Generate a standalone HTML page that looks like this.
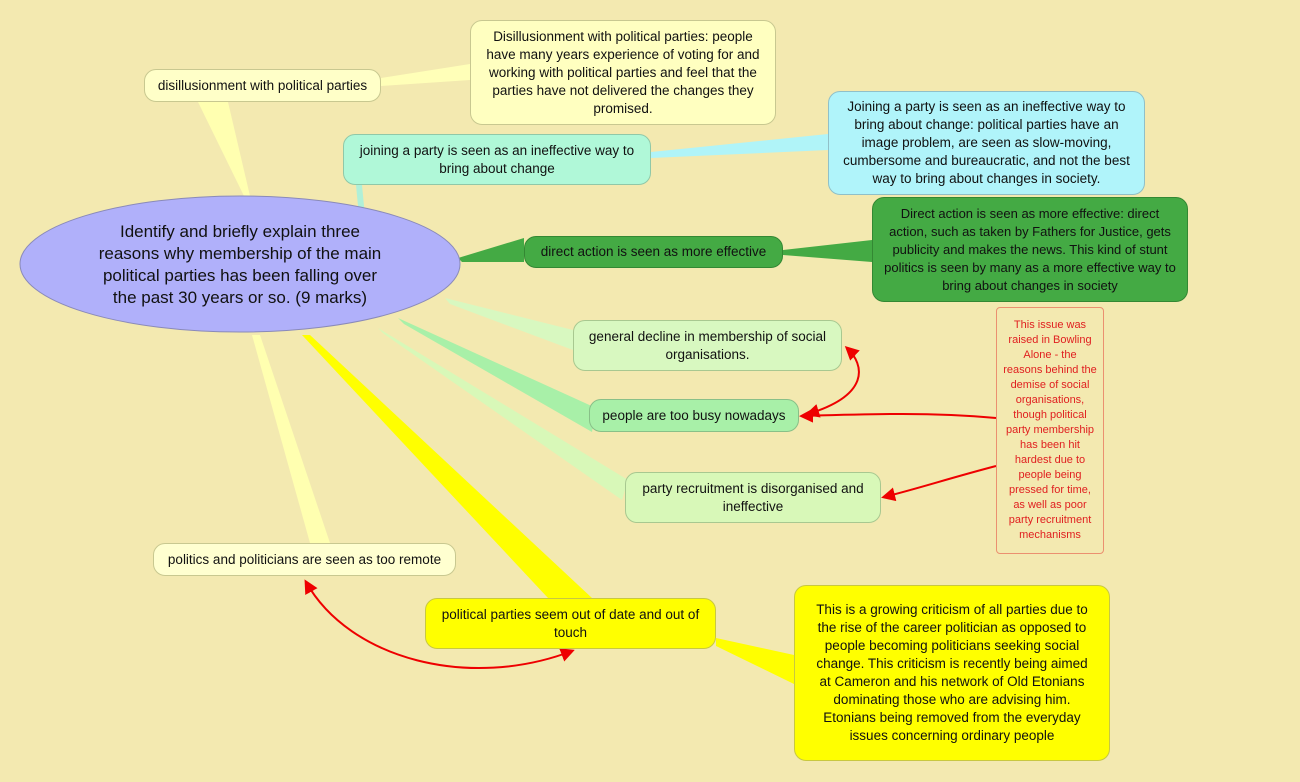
<!DOCTYPE html>
<html><head><style>
body{margin:0;width:1300px;height:782px;background:#f3e9b0;position:relative;overflow:hidden;font-family:"Liberation Sans",sans-serif;}
.n{position:absolute;box-sizing:border-box;border-radius:12px;display:flex;align-items:center;justify-content:center;text-align:center;font-size:13.5px;line-height:18px;color:#111;padding:2px 10px;}
svg{position:absolute;left:0;top:0}
</style></head><body>
<svg width="1300" height="782">
<defs><marker id="a" markerWidth="14" markerHeight="14" refX="11" refY="7" orient="auto-start-reverse" markerUnits="userSpaceOnUse"><path d="M0,0 L14,7 L0,14 z" fill="#e00"/></marker></defs>
<polygon points="198,102 228,102 250,196 244,196" fill="#ffffb0"/>
<polygon points="381,78 381,86 470,80 470,64" fill="#ffffb8"/>
<polygon points="362,248 368,248 362,185 356,185" fill="#b0f0d8"/>
<polygon points="651,152 651,158 828,150 828,134" fill="#b0f4f8"/>
<polygon points="458,258 462,262 524,262 524,238" fill="#44aa44"/>
<polygon points="783,250 783,255 872,262 872,240" fill="#44aa44"/>
<polygon points="445,298 450,304 573,350 573,330" fill="#d8f8c0"/>
<polygon points="398,318 404,324 592,432 596,408" fill="#a8f0a8"/>
<polygon points="378,328 384,334 622,500 628,480" fill="#d8f8b8"/>
<polygon points="252,335 260,335 330,543 310,543" fill="#ffffb0"/>
<polygon points="302,335 310,335 592,598 548,598" fill="#ffff00"/>
<polygon points="716,638 716,646 794,684 794,655" fill="#ffff00"/>
<ellipse cx="240" cy="264" rx="220" ry="68" fill="#b0b0fa" stroke="#8a8ab8"/>
<path d="M808,414 C870,395 865,365 847,348" stroke="#e00" stroke-width="2" fill="none" marker-start="url(#a)" marker-end="url(#a)"/>
<path d="M996,418 C930,412 870,414 802,416" stroke="#e00" stroke-width="2" fill="none" marker-end="url(#a)"/>
<path d="M996,466 C950,478 920,488 884,497" stroke="#e00" stroke-width="2" fill="none" marker-end="url(#a)"/>
<path d="M306,582 C350,660 470,690 572,651" stroke="#e00" stroke-width="2" fill="none" marker-start="url(#a)" marker-end="url(#a)"/>
</svg>
<div class="n" style="left:30px;top:215px;width:420px;height:100px;font-size:17px;line-height:22px;background:none;padding:0 60px">Identify and briefly explain three reasons why membership of the main political parties has been falling over the past 30 years or so. (9 marks)</div>
<div class="n" style="left:144px;top:69px;width:237px;height:33px;background:#ffffc8;border:1px solid #c8c890">disillusionment with political parties</div>
<div class="n" style="left:470px;top:20px;width:306px;height:105px;background:#ffffc0;border:1px solid #c8c890;padding:2px 12px">Disillusionment with political parties: people have many years experience of voting for and working with political parties and feel that the parties have not delivered the changes they promised.</div>
<div class="n" style="left:343px;top:134px;width:308px;height:51px;background:#b0f8d8;border:1px solid #90c8a8">joining a party is seen as an ineffective way to bring about change</div>
<div class="n" style="left:828px;top:91px;width:317px;height:104px;background:#b0f4fa;border:1px solid #90c0c8;padding:2px 14px">Joining a party is seen as an ineffective way to bring about change: political parties have an image problem, are seen as slow-moving, cumbersome and bureaucratic, and not the best way to bring about changes in society.</div>
<div class="n" style="left:524px;top:236px;width:259px;height:32px;background:#44aa44;border:1px solid #338833">direct action is seen as more effective</div>
<div class="n" style="left:872px;top:197px;width:316px;height:105px;background:#44aa44;border:1px solid #338833;padding:2px 10px;font-size:13px">Direct action is seen as more effective: direct action, such as taken by Fathers for Justice, gets publicity and makes the news. This kind of stunt politics is seen by many as a more effective way to bring about changes in society</div>
<div class="n" style="left:573px;top:320px;width:269px;height:51px;background:#d8f8c0;border:1px solid #a8c890">general decline in membership of social organisations.</div>
<div class="n" style="left:589px;top:399px;width:210px;height:33px;background:#a8f0a8;border:1px solid #88c088">people are too busy nowadays</div>
<div class="n" style="left:625px;top:472px;width:256px;height:51px;background:#d8f8b8;border:1px solid #a8c890">party recruitment is disorganised and ineffective</div>
<div class="n" style="left:996px;top:307px;width:108px;height:247px;border-radius:4px;border:1px solid #eb9070;color:#e02020;font-size:11px;line-height:15px;padding:0 6px">This issue was raised in Bowling Alone - the reasons behind the demise of social organisations, though political party membership has been hit hardest due to people being pressed for time, as well as poor party recruitment mechanisms</div>
<div class="n" style="left:153px;top:543px;width:303px;height:33px;background:#ffffd0;border:1px solid #c8c890">politics and politicians are seen as too remote</div>
<div class="n" style="left:425px;top:598px;width:291px;height:51px;background:#ffff00;border:1px solid #c8c840">political parties seem out of date and out of touch</div>
<div class="n" style="left:794px;top:585px;width:316px;height:176px;background:#ffff00;border:1px solid #c8c840;padding:2px 16px">This is a growing criticism of all parties due to the rise of the career politician as opposed to people becoming politicians seeking social change. This criticism is recently being aimed at Cameron and his network of Old Etonians dominating those who are advising him. Etonians being removed from the everyday issues concerning ordinary people</div>
</body></html>
